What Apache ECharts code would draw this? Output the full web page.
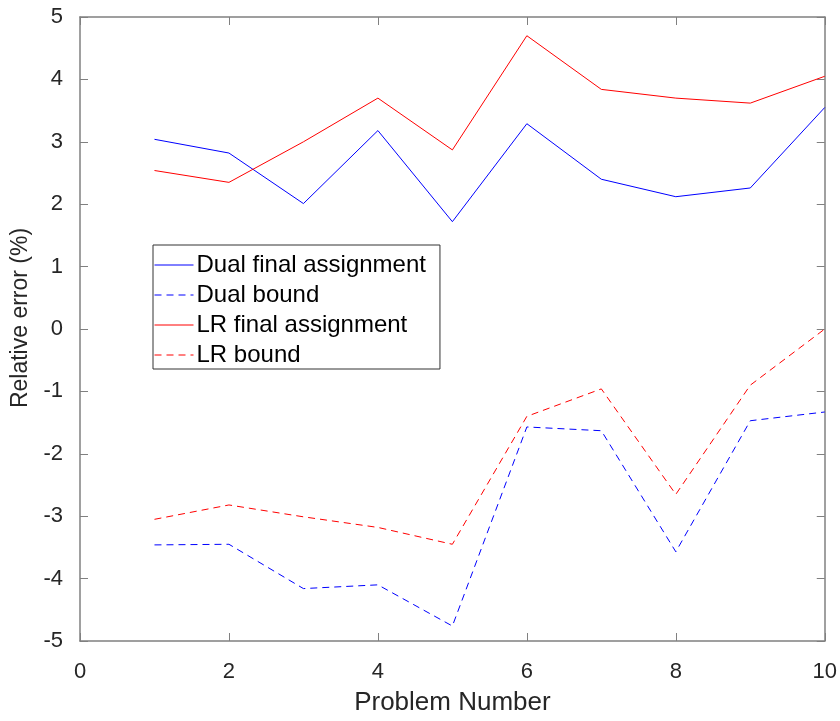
<!DOCTYPE html>
<html>
<head>
<meta charset="utf-8">
<script src="https://cdn.jsdelivr.net/npm/echarts@6/dist/echarts.min.js"></script>
<style>
  html, body { margin: 0; padding: 0; background: #fff; }
  #chart { width: 840px; height: 721px; }
</style>
</head>
<body>
<div id="chart"></div>
<script>
// problem numbers
const problems = [1, 2, 3, 4, 5, 6, 7, 8, 9, 10];
// relative error (%)
const dualFinal = [3.04, 2.82, 2.01, 3.18, 1.72, 3.29, 2.40, 2.12, 2.26, 3.55];
const dualBound = [-3.46, -3.45, -4.16, -4.10, -4.76, -1.57, -1.63, -3.57, -1.47, -1.33];
const lrFinal = [2.54, 2.35, 3.00, 3.70, 2.87, 4.70, 3.84, 3.70, 3.62, 4.05];
const lrBound = [-3.05, -2.82, -3.01, -3.18, -3.45, -1.40, -0.96, -2.65, -0.90, 0.00];

const pairs = (ys) => problems.map((x, i) => [x, ys[i]]);

const axisColor = '#808080';
const labelColor = '#262626';
const fontFamily = 'Liberation Sans, Arial, sans-serif';

const chart = echarts.init(document.getElementById('chart'));

const option = {
  animation: false,
  backgroundColor: '#fff',
  grid: { left: 80, right: 12, top: 17, bottom: 79, containLabel: false },
  legend: {
    orient: 'vertical',
    left: 153,
    top: 245,
    padding: [8, 14, 2, 1],
    itemWidth: 39,
    itemHeight: 14,
    itemGap: 6,
    backgroundColor: '#fff',
    borderColor: '#333',
    borderWidth: 1,
    borderRadius: 0,
    itemStyle: { opacity: 0 },
    lineStyle: { width: 1 },
    textStyle: { fontSize: 24, fontFamily: fontFamily, color: '#000', padding: [0, 0, 0, -2] },
    data: ['Dual final assignment', 'Dual bound', 'LR final assignment', 'LR bound']
  },
  xAxis: [
    {
      type: 'value', min: 0, max: 10, interval: 2,
      name: 'Problem Number', nameLocation: 'middle', nameGap: 49,
      nameTextStyle: { fontSize: 26, fontFamily: fontFamily, color: labelColor },
      axisLine: { show: true, onZero: false, lineStyle: { color: axisColor, width: 1.5 } },
      axisTick: { show: true, inside: true, length: 8, lineStyle: { color: axisColor } },
      axisLabel: { fontSize: 22, fontFamily: fontFamily, color: labelColor, margin: 20 },
      splitLine: { show: false }
    },
    {
      type: 'value', min: 0, max: 10, interval: 2, position: 'top',
      axisLine: { show: true, onZero: false, lineStyle: { color: axisColor, width: 1.5 } },
      axisTick: { show: true, inside: true, length: 8, lineStyle: { color: axisColor } },
      axisLabel: { show: false },
      splitLine: { show: false }
    }
  ],
  yAxis: [
    {
      type: 'value', min: -5, max: 5, interval: 1,
      name: 'Relative error (%)', nameLocation: 'middle', nameGap: 44,
      nameTextStyle: { fontSize: 23, fontFamily: fontFamily, color: labelColor, padding: [0, 0, 0, 22] },
      axisLine: { show: true, onZero: false, lineStyle: { color: axisColor, width: 1.5 } },
      axisTick: { show: true, inside: true, length: 8, lineStyle: { color: axisColor } },
      axisLabel: { fontSize: 22, fontFamily: fontFamily, color: labelColor, margin: 17 },
      splitLine: { show: false }
    },
    {
      type: 'value', min: -5, max: 5, interval: 1, position: 'right',
      axisLine: { show: true, onZero: false, lineStyle: { color: axisColor, width: 1.5 } },
      axisTick: { show: true, inside: true, length: 8, lineStyle: { color: axisColor } },
      axisLabel: { show: false },
      splitLine: { show: false }
    }
  ],
  series: [
    {
      name: 'Dual final assignment', type: 'line', data: pairs(dualFinal),
      symbol: 'none', lineStyle: { color: '#0000ff', width: 1 }, itemStyle: { color: '#0000ff' }
    },
    {
      name: 'Dual bound', type: 'line', data: pairs(dualBound),
      symbol: 'none', lineStyle: { color: '#0000ff', width: 1, type: [7, 5] }, itemStyle: { color: '#0000ff' }
    },
    {
      name: 'LR final assignment', type: 'line', data: pairs(lrFinal),
      symbol: 'none', lineStyle: { color: '#ff0000', width: 1 }, itemStyle: { color: '#ff0000' }
    },
    {
      name: 'LR bound', type: 'line', data: pairs(lrBound),
      symbol: 'none', lineStyle: { color: '#ff0000', width: 1, type: [7, 5] }, itemStyle: { color: '#ff0000' }
    }
  ]
};

chart.setOption(option);
</script>
</body>
</html>
